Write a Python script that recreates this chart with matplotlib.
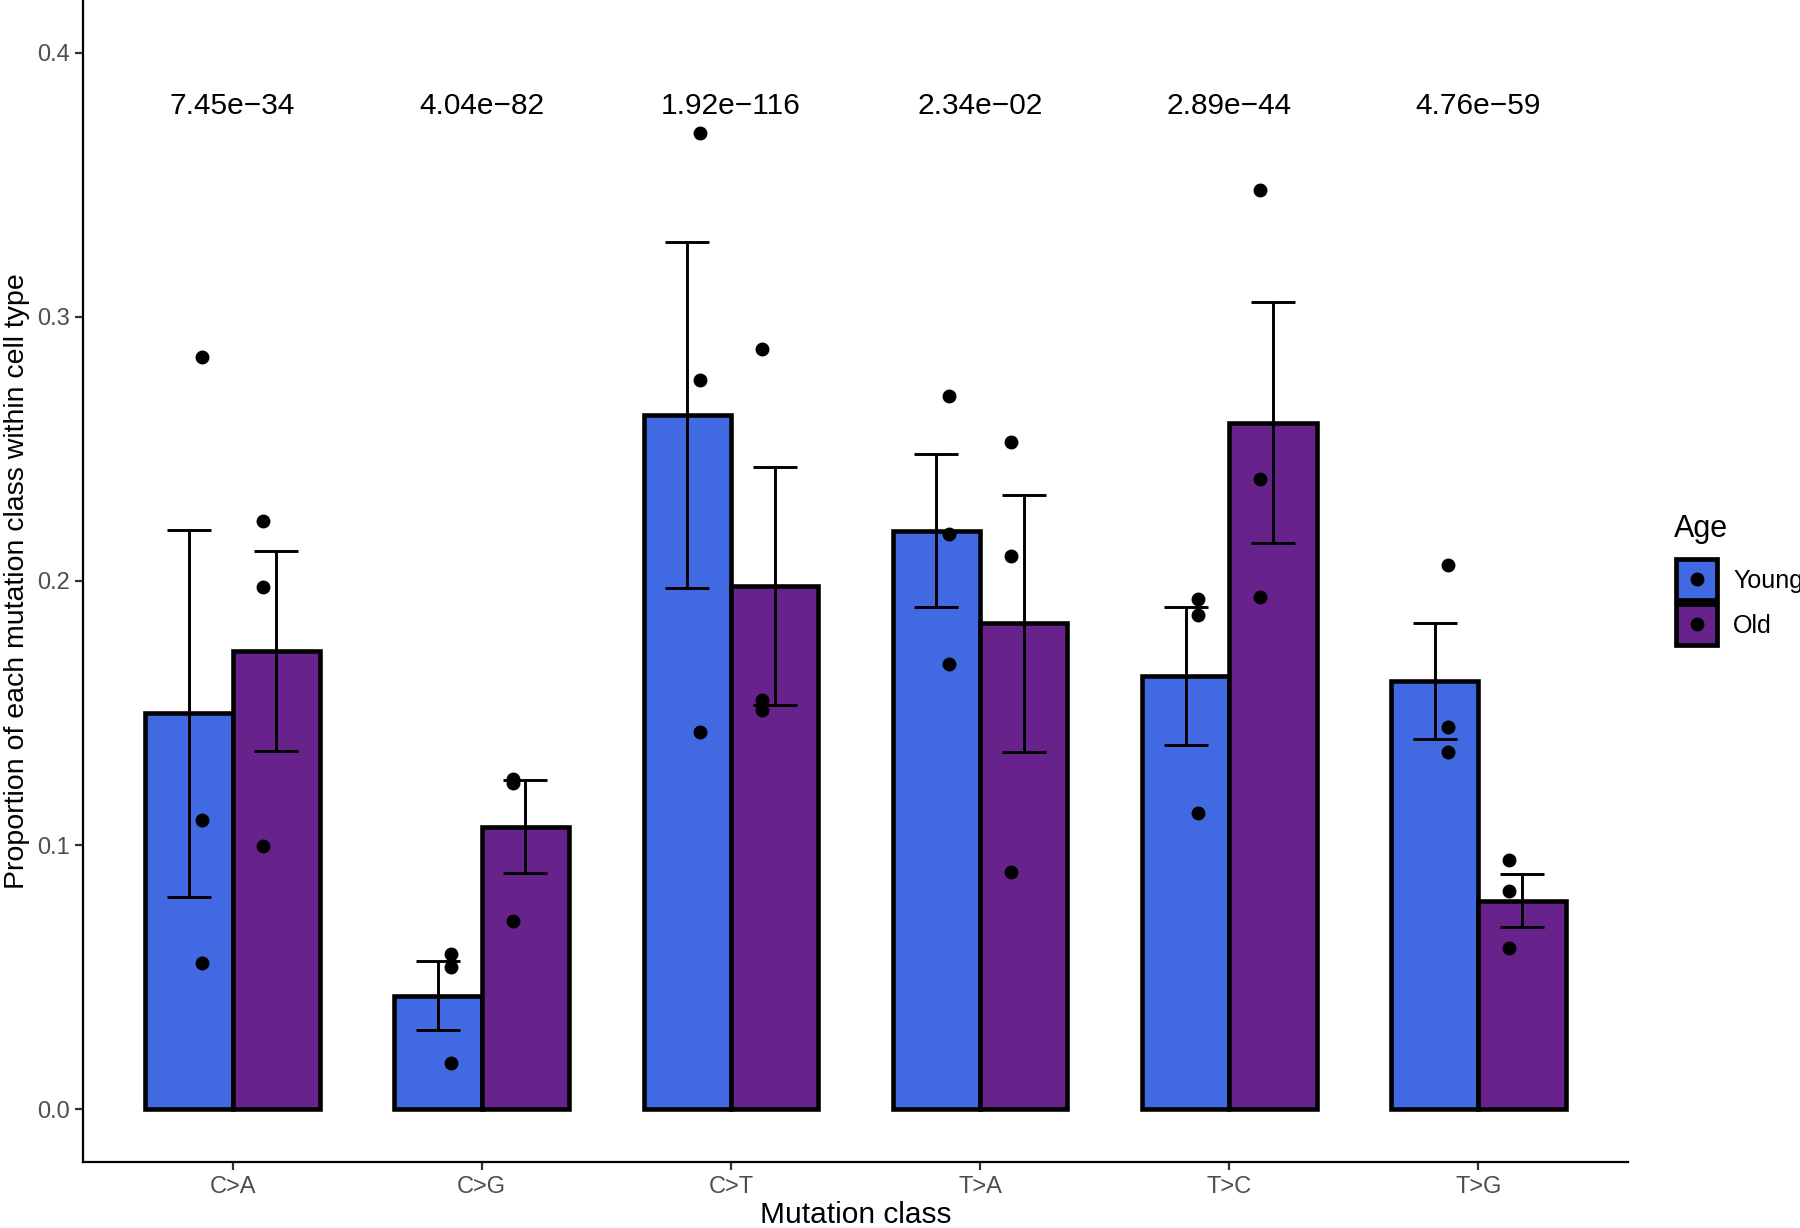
import numpy as np
import matplotlib
matplotlib.use("Agg")
import matplotlib.pyplot as plt
from matplotlib.patches import Rectangle
from matplotlib.lines import Line2D

plt.rcParams['font.family'] = ['Liberation Sans', 'DejaVu Sans']

classes = ['C>A', 'C>G', 'C>T', 'T>A', 'T>C', 'T>G']
pvals = ['7.45e\u221234', '4.04e\u221282', '1.92e\u2212116', '2.34e\u221202', '2.89e\u221244', '4.76e\u221259']

young_mean = [0.150, 0.043, 0.263, 0.219, 0.164, 0.162]
young_se = [0.0695, 0.013, 0.0655, 0.029, 0.026, 0.022]
old_mean = [0.1735, 0.107, 0.198, 0.184, 0.260, 0.079]
old_se = [0.0377, 0.0177, 0.045, 0.0487, 0.0458, 0.0099]

young_pts = [[0.285, 0.1096, 0.0552], [0.0587, 0.054, 0.0174], [0.3696, 0.276, 0.143],
             [0.270, 0.2178, 0.1687], [0.193, 0.187, 0.1122], [0.206, 0.1448, 0.1352]]
old_pts = [[0.2226, 0.1978, 0.0996], [0.1252, 0.1235, 0.0713], [0.288, 0.1548, 0.1513],
           [0.2526, 0.2096, 0.090], [0.348, 0.2387, 0.194], [0.0943, 0.0826, 0.0609]]

young_col = '#4169E1'
old_col = '#68228B'

W, H = 1800, 1228
fig = plt.figure(figsize=(18, 12.28), dpi=100)
ax = fig.add_axes([83 / W, 1 - 1162 / H, (1628 - 83) / W, 1162 / H])

x = np.arange(1, len(classes) + 1)
bw = 0.35

for means, ses, pts, col, off, doff in [(young_mean, young_se, young_pts, young_col, -bw / 2, -0.124),
                                         (old_mean, old_se, old_pts, old_col, bw / 2, 0.124)]:
    ax.bar(x + off, means, width=bw, color=col, edgecolor='black', linewidth=3.3, zorder=2)
    ax.errorbar(x + off, means, yerr=ses, fmt='none', ecolor='black', elinewidth=2.1,
                capsize=15.5, capthick=2.1, zorder=3)
    for xi, p in zip(x, pts):
        ax.plot([xi + doff] * len(p), p, 'o', color='black', markersize=9, zorder=4, linestyle='none')

for xi, p in zip(x, pvals):
    ax.text(xi, 0.38, p, ha='center', va='center', fontsize=21.5)

ax.set_xlim(0.4, 6.6)
ax.set_ylim(-0.02, 0.42)
ax.set_xticks(x)
ax.set_xticklabels(classes)
ax.set_yticks([0.0, 0.1, 0.2, 0.3, 0.4])
ax.set_yticklabels(['0.0', '0.1', '0.2', '0.3', '0.4'])
ax.tick_params(axis='both', labelsize=17, labelcolor='#4D4D4D', color='#333333',
               length=6, width=1.6)
ax.tick_params(axis='x', pad=4)
for s in ['top', 'right']:
    ax.spines[s].set_visible(False)
for s in ['left', 'bottom']:
    ax.spines[s].set_linewidth(1.6)
ax.set_xlabel('Mutation class', fontsize=21.5, labelpad=2)
ax.set_ylabel('Proportion of each mutation class within cell type', fontsize=20.5, labelpad=5)

# legend, drawn by hand in figure pixels
def fx(px):
    return px / W

def fy(py):
    return 1 - py / H

fig.text(fx(1674), fy(537), 'Age', fontsize=22, ha='left', va='baseline')
for (top, bot), col, lab in [((557, 602), young_col, 'Young'), ((602, 647), old_col, 'Old')]:
    fig.add_artist(Rectangle((fx(1676), fy(bot - 2)), fx(1717) - fx(1676), fy(top + 2) - fy(bot - 2),
                             facecolor=col, edgecolor='black', linewidth=3.4, transform=fig.transFigure))
    fig.add_artist(Line2D([fx(1696.5)], [fy((top + bot) / 2)], marker='o', color='black',
                          markersize=9, transform=fig.transFigure))
    fig.text(fx(1733), fy((top + bot) / 2 + 2), lab, fontsize=18, ha='left', va='center')

fig.savefig('out.png', dpi=100)
